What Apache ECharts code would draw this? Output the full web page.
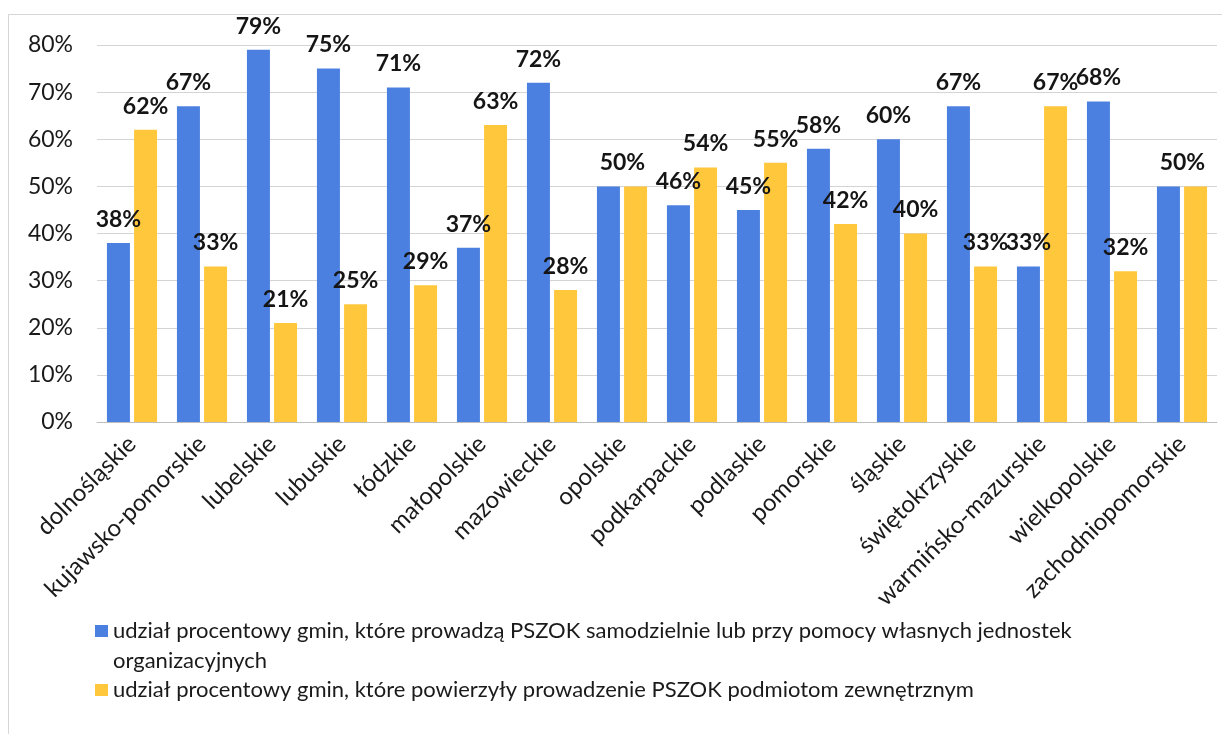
<!DOCTYPE html>
<html>
<head>
<meta charset="utf-8">
<title>PSZOK</title>
<script src="https://cdn.jsdelivr.net/npm/echarts@6/dist/echarts.min.js"></script>
<style>
  body { margin: 0; background: #fff; }
  #frame { position: absolute; left: 8px; top: 14px; width: 1230px; height: 740px; border: 1px solid #d6d6d6; }
  #chart { position: absolute; left: 0; top: 0; width: 1222px; height: 734px; }
</style>
</head>
<body>
<div id="frame"></div>
<div id="chart"></div>
<script type="text/javascript">

var regions = ['dolnośląskie', 'kujawsko-pomorskie', 'lubelskie', 'lubuskie', 'łódzkie', 'małopolskie',
    'mazowieckie', 'opolskie', 'podkarpackie', 'podlaskie', 'pomorskie', 'śląskie',
    'świętokrzyskie', 'warmińsko-mazurskie', 'wielkopolskie', 'zachodniopomorskie'];
var own = [38, 67, 79, 75, 71, 37, 72, 50, 46, 45, 58, 60, 67, 33, 68, 50];
var external = [62, 33, 21, 25, 29, 63, 28, 50, 54, 55, 42, 40, 33, 67, 32, 50];
var yTicks = [0, 10, 20, 30, 40, 50, 60, 70, 80];
var nameOwn = 'udział procentowy gmin, które prowadzą PSZOK samodzielnie lub przy pomocy własnych jednostek organizacyjnych';
var nameExt = 'udział procentowy gmin, które powierzyły prowadzenie PSZOK podmiotom zewnętrznym';

var FONT = 'Lato, "Open Sans", sans-serif';

// where both values are equal Excel shows only one label, centred over the pair
function withLabels(vals, other, isFirst) {
    return vals.map(function (v, i) {
        if (v === other[i]) {
            if (isFirst) return { value: v, label: { offset: [14, 0] } };
            return { value: v, label: { show: false } };
        }
        return v;
    });
}

var valueLabel = {
    show: true,
    position: 'top',
    distance: 12,
    formatter: '{c}%',
    fontFamily: FONT,
    fontWeight: 'bold',
    fontSize: 23,
    color: '#151515'
};

var chart = echarts.init(document.getElementById('chart'));
chart.setOption({
    animation: false,
    backgroundColor: 'transparent',
    grid: { left: 97, right: 5, top: 45, bottom: 312, containLabel: false },
    legend: [{
        data: [nameOwn],
        orient: 'vertical',
        left: 90,
        top: 581,
        icon: 'rect',
        itemWidth: 13,
        itemHeight: 12,
        selectedMode: false,
        // blank first line keeps the marker level with the first text line
        formatter: function (n) {
            return '\n' + n.replace(' organizacyjnych', '\norganizacyjnych');
        },
        textStyle: { fontFamily: FONT, fontSize: 22, color: '#1a1a1a', lineHeight: 30 }
    }, {
        data: [nameExt],
        orient: 'vertical',
        left: 90,
        top: 670,
        icon: 'rect',
        itemWidth: 13,
        itemHeight: 12,
        selectedMode: false,
        textStyle: { fontFamily: FONT, fontSize: 22, color: '#1a1a1a', lineHeight: 30 }
    }],
    xAxis: {
        type: 'category',
        data: regions,
        axisTick: { show: false },
        axisLine: { lineStyle: { color: '#bdbdbd', width: 1 } },
        axisLabel: {
            interval: 0,
            rotate: 45,
            margin: 18,
            fontFamily: FONT,
            fontSize: 24,
            color: '#1a1a1a'
        }
    },
    yAxis: {
        type: 'value',
        min: yTicks[0],
        max: yTicks[yTicks.length - 1],
        interval: 10,
        axisLine: { show: false },
        axisTick: { show: false },
        splitLine: { lineStyle: { color: '#d4d4d4', width: 1 } },
        axisLabel: {
            margin: 24,
            formatter: '{value}%',
            fontFamily: FONT,
            fontSize: 23,
            color: '#1a1a1a'
        }
    },
    series: [{
        name: nameOwn,
        type: 'bar',
        data: withLabels(own, external, true),
        barWidth: 23,
        barGap: '18%',
        itemStyle: { color: '#4c80e0' },
        label: valueLabel
    }, {
        name: nameExt,
        type: 'bar',
        data: withLabels(external, own, false),
        barWidth: 23,
        itemStyle: { color: '#ffc83c' },
        label: valueLabel
    }]
});
</script>
</body>
</html>
